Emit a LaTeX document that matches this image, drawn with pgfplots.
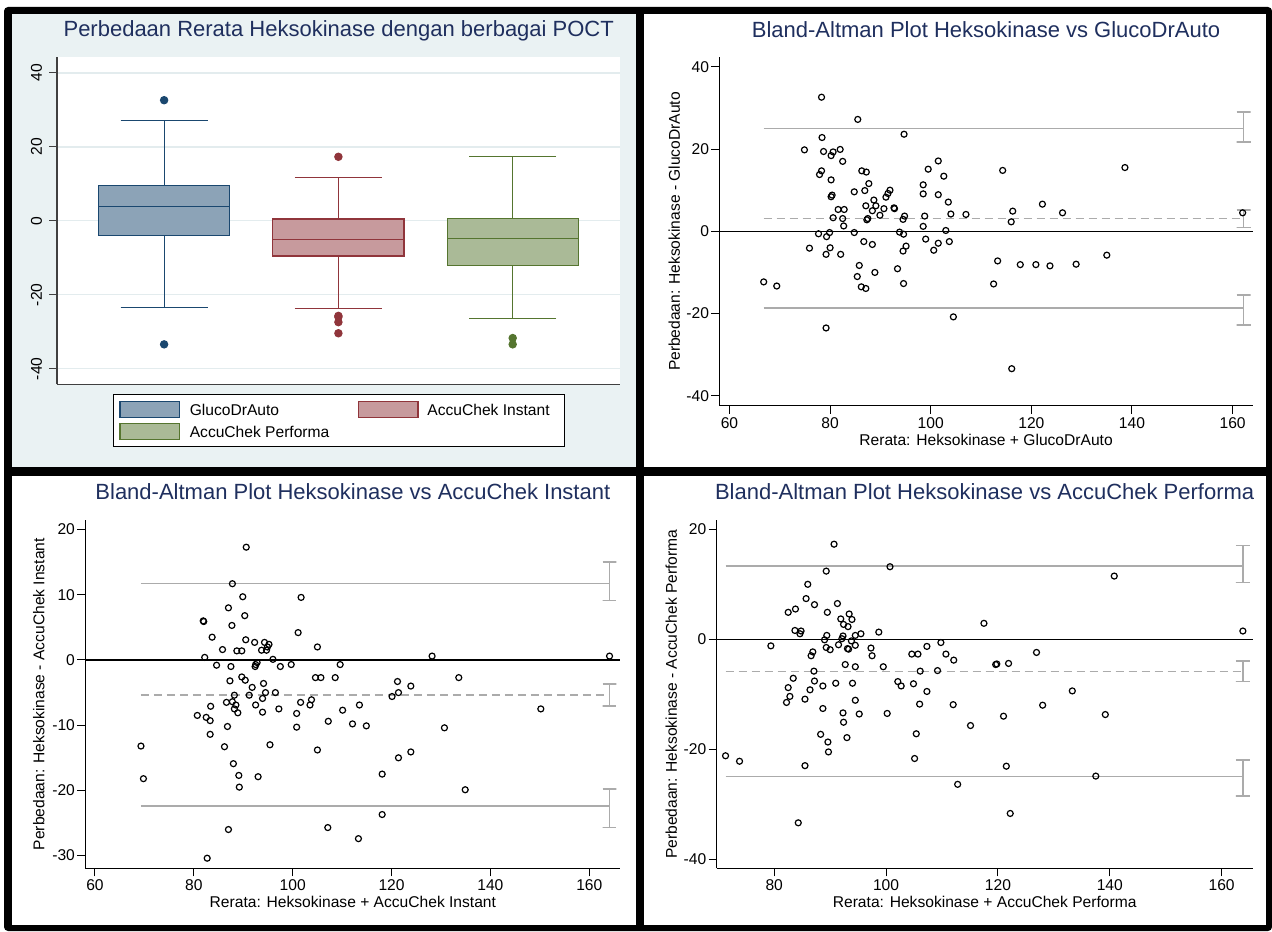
\documentclass[border=0pt]{standalone}
\usepackage{pgfplots}
\pgfplotsset{compat=1.18}
\usepgfplotslibrary{statistics}
\usepackage{fontspec}
\setmainfont{Liberation Sans}
\definecolor{panelbg}{HTML}{EAF2F3}
\definecolor{gridc}{HTML}{E3ECEE}
\definecolor{titlec}{HTML}{1F2F5E}
\definecolor{gnavy}{RGB}{26,71,111}
\definecolor{gmaroon}{RGB}{144,53,59}
\definecolor{ggreen}{RGB}{85,117,47}
\definecolor{loac}{HTML}{ABABAB}
\newcommand{\tfont}{\fontsize{11}{13}\selectfont}
\newcommand{\lfont}{\fontsize{7.8}{9.4}\selectfont}
\pgfplotsset{
  base/.style={
    scale only axis,
    axis background/.style={fill=white},
    axis x line*=bottom, axis y line*=left,
    axis line style={-, line width=0.6pt, black},
    tick align=outside,
    major tick length=4pt,
    tick style={line width=0.5pt, black},
    tick label style={font=\lfont},
    /pgf/number format/assume math mode=true,
    label style={font=\lfont},
    title style={font=\tfont, color=titlec, anchor=base},
    clip=false,
  },
  ba/.style={base, xtick={60,80,100,120,140,160},
    yticklabel style={inner xsep=1pt}, xticklabel style={inner ysep=1.6pt}},
  pts/.style={only marks, mark=o, mark size=1.5pt, mark options={line width=0.6pt, black}},
  loa/.style={loac, line width=0.75pt},
  loam/.style={loac, line width=0.75pt, dash pattern=on 4pt off 2.5pt},
  zl/.style={black, line width=0.65pt},
}
\begin{document}
\begin{tikzpicture}
% background and frame
\fill[white] (0,0) rectangle (636pt,-465.5pt);
\fill[black, rounded corners=2pt] (2pt,-3.5pt) rectangle (636pt,-465.5pt);
\fill[panelbg] (6pt,-7pt) rectangle (317.75pt,-233.5pt);
\fill[white] (322pt,-7pt) rectangle (633pt,-233.5pt);
\fill[white] (6pt,-238pt) rectangle (317.75pt,-462.5pt);
\fill[white] (322pt,-238pt) rectangle (633pt,-462.5pt);

% ---------------- Panel 1: box plots ----------------
\begin{axis}[base, at={(28.55pt,-28.65pt)}, anchor=north west,
  width=281.65pt, height=163.5pt,
  xmin=0.386, xmax=3.618, ymin=-44.2, ymax=44.2,
  xtick=\empty, ytick={-40,-20,0,20,40},
  ymajorgrids, grid style={gridc, line width=0.7pt},
  axis line style={-, line width=0.6pt, black!75},
  tick style={line width=0.5pt, black!75},
  yticklabel style={rotate=90, anchor=south},
  title={Perbedaan Rerata Heksokinase dengan berbagai POCT},
  title style={at={(axis description cs:0.5,1.0254)}},
  boxplot/draw direction=y,
  boxplot/box extend=0.752, boxplot/whisker extend=0.5]
\addplot[boxplot prepared={draw position=1, median=3.8, upper quartile=9.65,
   lower quartile=-3.95, upper whisker=27.2, lower whisker=-23.5},
   draw=gnavy, fill=gnavy!50!white, line width=0.6pt,
   mark=*, mark size=1.8pt, mark options={fill=gnavy, draw=gnavy}]
   table[row sep=\\, y index=0] {data\\ 32.6\\ -33.4\\};
\addplot[boxplot prepared={draw position=2, median=-5.1, upper quartile=0.46,
   lower quartile=-9.5, upper whisker=11.6, lower whisker=-23.7},
   draw=gmaroon, fill=gmaroon!50!white, line width=0.6pt,
   mark=*, mark size=1.8pt, mark options={fill=gmaroon, draw=gmaroon}]
   table[row sep=\\, y index=0] {data\\ 17.3\\ -25.7\\ -26.0\\ -27.4\\ -30.4\\};
\addplot[boxplot prepared={draw position=3, median=-4.76, upper quartile=0.65,
   lower quartile=-12.0, upper whisker=17.3, lower whisker=-26.5},
   draw=ggreen, fill=ggreen!50!white, line width=0.6pt,
   mark=*, mark size=1.8pt, mark options={fill=ggreen, draw=ggreen}]
   table[row sep=\\, y index=0] {data\\ -31.7\\ -33.4\\};
\end{axis}
% legend of panel 1
\draw[black, line width=0.5pt, fill=white] (56.8pt,-197.15pt) rectangle (282pt,-223pt);
\filldraw[draw=gnavy, fill=gnavy!50!white, line width=0.6pt] (60pt,-200.85pt) rectangle (89.85pt,-208.85pt);
\node[anchor=base west, inner sep=0pt, font=\lfont] at (94.7pt,-207.5pt) {GlucoDrAuto};
\filldraw[draw=gmaroon, fill=gmaroon!50!white, line width=0.6pt] (179.3pt,-200.85pt) rectangle (209pt,-208.85pt);
\node[anchor=base west, inner sep=0pt, font=\lfont] at (213.5pt,-207.5pt) {AccuChek Instant};
\filldraw[draw=ggreen, fill=ggreen!50!white, line width=0.6pt] (60pt,-211.9pt) rectangle (89.85pt,-219.9pt);
\node[anchor=base west, inner sep=0pt, font=\lfont] at (94.7pt,-218.6pt) {AccuChek Performa};

% ---------------- Panel 2: GlucoDrAuto ----------------
\begin{axis}[ba, at={(359.7pt,-28.65pt)}, anchor=north west,
  width=266.65pt, height=174.2pt,
  xmin=58.0, xmax=164.0, ymin=-42.4, ymax=42.3, ytick={-40,-20,0,20,40},
  title={Bland-Altman Plot Heksokinase vs GlucoDrAuto},
  title style={at={(axis description cs:0.5,1.023)}},
  xlabel={Rerata: Heksokinase + GlucoDrAuto},
  xlabel style={at={(axis description cs:0.5,-0.1128)}, anchor=base},
  ylabel={Perbedaan: Heksokinase - GlucoDrAuto},
  ylabel style={at={(axis description cs:-0.0846,0.5)}, anchor=center}]
\addplot[zl] coordinates {(58.0,0) (164.0,0)};
\addplot[loa] coordinates {(66.8,25.0) (162.2,25.0)};
\addplot[loam] coordinates {(66.8,3.16) (162.2,3.16)};
\addplot[loa] coordinates {(66.8,-18.7) (162.2,-18.7)};
\addplot[loa] coordinates {(160.8,29.06) (163.6,29.06) (162.2,29.06) (162.2,21.77) (160.8,21.77) (163.6,21.77)};
\addplot[loa] coordinates {(160.8,5.17) (163.6,5.17) (162.2,5.17) (162.2,0.87) (160.8,0.87) (163.6,0.87)};
\addplot[loa] coordinates {(160.8,-15.5) (163.6,-15.5) (162.2,-15.5) (162.2,-22.8) (160.8,-22.8) (163.6,-22.8)};
\addplot[pts] table {
x y
78.3 32.6
85.5 27.2
94.7 23.6
78.4 22.8
74.9 19.8
78.7 19.4
80.6 19.3
82.0 19.9
80.2 18.4
82.5 17.0
101.5 17.1
99.5 15.1
78.3 14.7
77.9 13.8
86.3 14.7
87.2 14.4
102.6 13.4
80.2 12.5
87.7 11.6
98.5 11.3
84.8 9.6
86.9 9.9
91.9 10.0
91.5 9.2
91.1 8.3
80.4 8.8
80.2 8.4
98.5 9.1
101.5 8.9
103.5 7.1
88.7 7.6
87.1 6.2
89.1 6.2
90.7 5.5
88.4 5.0
92.7 5.7
92.8 5.5
81.6 5.3
82.8 5.3
89.9 3.9
94.8 3.7
98.8 3.7
104.0 4.2
107.0 4.1
80.6 3.3
82.5 3.1
87.3 2.8
87.5 3.1
94.5 2.9
82.7 1.3
98.5 1.2
84.8 -0.3
93.8 -0.2
94.6 -0.7
103.0 0.2
77.7 -0.6
79.9 -0.3
79.3 -1.3
99.0 -1.9
86.7 -2.5
88.4 -3.2
95.1 -3.6
94.5 -4.8
101.5 -2.9
103.7 -2.5
100.6 -4.6
75.9 -4.1
80.0 -4.0
79.2 -5.6
82.1 -5.6
85.8 -8.3
85.4 -11.0
88.9 -10.0
93.4 -9.1
94.6 -12.7
86.2 -13.5
87.1 -13.9
66.8 -12.3
69.4 -13.3
104.5 -20.8
79.2 -23.5
114.3 14.8
138.6 15.5
122.2 6.6
116.3 4.9
126.2 4.5
116.0 2.3
162.0 4.5
113.3 -7.2
117.8 -8.1
120.9 -8.1
123.7 -8.4
128.9 -8.0
135.0 -5.8
112.5 -12.8
116.1 -33.4
};
\end{axis}

% ---------------- Panel 3: AccuChek Instant ----------------
\begin{axis}[ba, at={(42.65pt,-260pt)}, anchor=north west,
  width=267.55pt, height=174.15pt,
  xmin=58.04, xmax=166.3, ymin=-31.95, ymax=21.47, ytick={-30,-20,-10,0,10,20},
  title={Bland-Altman Plot Heksokinase vs AccuChek Instant},
  title style={at={(axis description cs:0.5,1.0238)}},
  xlabel={Rerata: Heksokinase + AccuChek Instant},
  xlabel style={at={(axis description cs:0.5,-0.112)}, anchor=base},
  ylabel={Perbedaan: Heksokinase - AccuChek Instant},
  ylabel style={at={(axis description cs:-0.0869,0.5)}, anchor=center}]
\addplot[zl] coordinates {(58.04,0) (166.3,0)};
\addplot[loa] coordinates {(69.3,11.7) (164.1,11.7)};
\addplot[loam] coordinates {(69.3,-5.37) (164.1,-5.37)};
\addplot[loa] coordinates {(69.3,-22.39) (164.1,-22.39)};
\addplot[loa] coordinates {(162.7,15.0) (165.5,15.0) (164.1,15.0) (164.1,9.1) (162.7,9.1) (165.5,9.1)};
\addplot[loa] coordinates {(162.7,-3.68) (165.5,-3.68) (164.1,-3.68) (164.1,-7.05) (162.7,-7.05) (165.5,-7.05)};
\addplot[loa] coordinates {(162.7,-19.79) (165.5,-19.79) (164.1,-19.79) (164.1,-25.67) (162.7,-25.67) (165.5,-25.67)};
\addplot[pts] table {
x y
90.6 17.3
87.8 11.7
89.9 9.7
101.7 9.6
87.0 8.0
90.3 6.8
81.9 6.0
82.0 5.9
87.7 5.3
101.1 4.2
83.7 3.5
90.5 3.1
92.3 2.7
94.3 2.7
95.2 2.4
94.9 2.0
93.7 1.5
94.7 1.5
105.0 2.0
85.8 1.6
88.7 1.4
89.7 1.4
82.2 0.4
96.0 0.1
92.8 -0.4
92.5 -0.7
92.4 -1.0
84.6 -0.8
87.5 -1.0
97.5 -1.0
99.7 -0.7
109.6 -0.7
89.7 -2.6
90.4 -3.1
87.3 -3.2
104.6 -2.7
105.7 -2.7
108.6 -2.7
91.8 -4.2
94.1 -3.6
94.5 -5.0
96.5 -5.0
88.2 -5.4
91.2 -5.4
93.9 -5.9
86.6 -6.5
87.8 -6.4
88.5 -6.9
92.5 -6.9
83.4 -7.1
88.2 -7.5
88.9 -8.1
93.9 -8.0
97.2 -7.5
101.6 -6.5
103.5 -6.9
103.8 -6.1
100.8 -8.2
110.1 -7.7
80.7 -8.5
82.5 -8.8
83.3 -9.3
86.8 -10.2
100.8 -10.3
83.3 -11.4
107.2 -9.4
86.2 -13.3
95.4 -13.0
105.0 -13.8
69.3 -13.2
69.8 -18.2
88.0 -15.9
89.1 -17.7
93.0 -17.9
89.2 -19.5
87.0 -26.0
107.1 -25.7
82.7 -30.4
128.2 0.6
164.1 0.6
121.2 -3.3
133.6 -2.7
123.9 -4.0
121.4 -5.0
120.1 -5.6
113.5 -6.9
112.1 -9.8
114.9 -10.1
130.7 -10.4
150.2 -7.5
123.9 -14.1
121.4 -15.0
118.1 -17.5
134.9 -19.9
118.1 -23.7
113.3 -27.4
};
\end{axis}

% ---------------- Panel 4: AccuChek Performa ----------------
\begin{axis}[base, at={(358.3pt,-260pt)}, anchor=north west,
  width=268.05pt, height=174.15pt,
  xmin=69.7, xmax=165.56, ymin=-41.68, ymax=21.7,
  xtick={80,100,120,140,160}, ytick={-40,-20,0,20},
  yticklabel style={inner xsep=1pt}, xticklabel style={inner ysep=1.6pt},
  title={Bland-Altman Plot Heksokinase vs AccuChek Performa},
  title style={at={(axis description cs:0.5,1.0238)}},
  xlabel={Rerata: Heksokinase + AccuChek Performa},
  xlabel style={at={(axis description cs:0.5,-0.112)}, anchor=base},
  ylabel={Perbedaan: Heksokinase - AccuChek Performa},
  ylabel style={at={(axis description cs:-0.0845,0.5)}, anchor=center}]
\addplot[zl] coordinates {(69.7,0) (165.56,0)};
\addplot[loa] coordinates {(71.3,13.34) (163.8,13.34)};
\addplot[loam] coordinates {(71.3,-5.83) (163.8,-5.83)};
\addplot[loa] coordinates {(71.3,-25.0) (163.8,-25.0)};
\addplot[loa] coordinates {(162.55,17.04) (165.05,17.04) (163.8,17.04) (163.8,10.37) (162.55,10.37) (165.05,10.37)};
\addplot[loa] coordinates {(162.55,-3.95) (165.05,-3.95) (163.8,-3.95) (163.8,-7.72) (162.55,-7.72) (165.05,-7.72)};
\addplot[loa] coordinates {(162.55,-21.97) (165.05,-21.97) (163.8,-21.97) (163.8,-28.52) (162.55,-28.52) (165.05,-28.52)};
\addplot[pts] table {
x y
90.7 17.3
100.7 13.2
89.3 12.4
86.0 10.0
85.7 7.4
87.2 6.3
91.3 6.5
82.5 4.9
83.8 5.5
89.5 4.9
93.4 4.6
91.9 3.7
93.9 3.6
92.4 2.7
93.2 2.3
83.7 1.6
84.8 1.5
84.6 1.0
95.5 1.0
98.7 1.3
89.4 0.7
92.3 0.6
94.5 0.7
92.1 0.1
89.0 -0.1
93.8 -0.3
94.5 -1.1
93.1 -1.7
93.3 -1.8
89.3 -1.5
90.0 -1.9
91.5 -1.0
79.4 -1.2
86.9 -2.3
86.6 -3.0
97.3 -1.6
97.5 -3.0
92.7 -4.6
94.5 -5.0
99.5 -5.0
87.1 -5.8
109.2 -5.7
106.1 -5.8
104.6 -2.7
105.7 -2.7
107.3 -1.3
109.8 -0.6
110.7 -2.7
112.1 -3.8
83.4 -7.1
82.5 -8.8
82.8 -10.4
82.2 -11.5
87.2 -7.6
86.4 -9.2
85.5 -10.9
88.7 -8.5
91.0 -8.0
94.0 -8.0
94.5 -11.1
88.7 -12.6
92.3 -13.4
95.2 -13.6
92.4 -15.1
88.3 -17.3
89.6 -18.7
89.7 -20.5
93.0 -17.9
100.2 -13.5
102.1 -7.7
102.7 -8.5
104.9 -8.1
107.3 -9.5
106.0 -11.8
112.0 -11.9
105.4 -17.2
105.1 -21.7
85.5 -23.0
71.3 -21.2
73.8 -22.2
84.3 -33.4
112.8 -26.4
117.5 2.9
140.8 11.5
163.8 1.5
126.9 -2.4
119.6 -4.6
119.8 -4.5
121.9 -4.4
133.3 -9.4
128.0 -12.0
121.0 -14.0
139.2 -13.7
115.1 -15.7
121.5 -23.1
137.5 -24.9
122.2 -31.7
};
\end{axis}
\end{tikzpicture}
\end{document}
